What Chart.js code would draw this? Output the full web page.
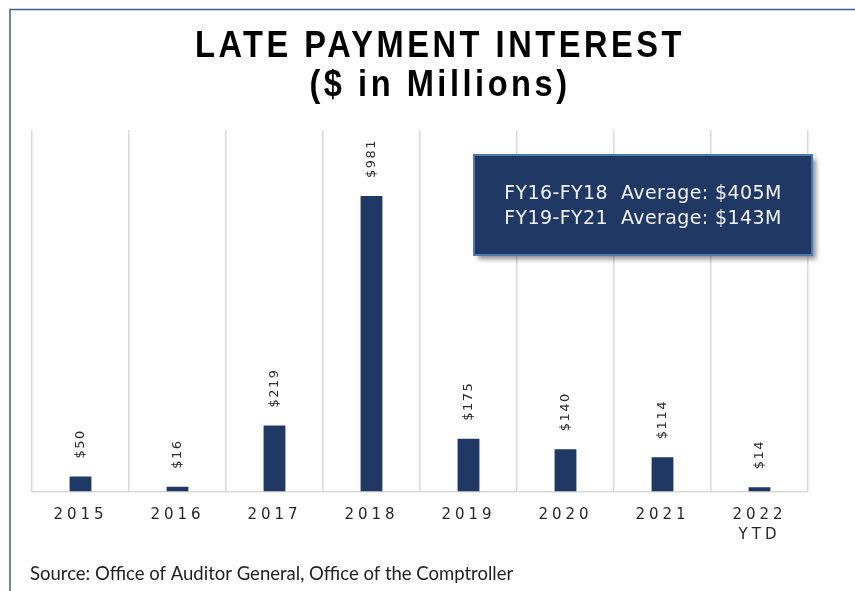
<!DOCTYPE html>
<html>
<head>
<meta charset="utf-8">
<script src="https://cdn.jsdelivr.net/npm/chart.js@4/dist/chart.umd.min.js"></script>
<style>
	body { margin: 0; background: #ffffff; }
	canvas { display: block; }
</style>
</head>
<body>
<canvas id="lateInterestChart" width="855" height="591"></canvas>
<script>

const years = ['2015', '2016', '2017', '2018', '2019', '2020', '2021', ['2022', 'YTD']];
const interest = [50, 16, 219, 981, 175, 140, 114, 14];
const titleLines = ['LATE PAYMENT INTEREST', '($ in Millions)'];
const averageLines = ['FY16-FY18  Average: $405M', 'FY19-FY21  Average: $143M'];
const sourceNote = 'Source: Office of Auditor General, Office of the Comptroller';

const navy = '#1f3864';

// frame, title, average box and source line
const decorations = {
	id: 'decorations',
	beforeDraw(chart) {
		let ctx = chart.ctx;
		ctx.save();
		ctx.fillStyle = '#ffffff';
		ctx.fillRect(0, 0, chart.width, chart.height);

		ctx.strokeStyle = '#3f5f8a';
		ctx.lineWidth = 1.5;
		ctx.beginPath();
		ctx.moveTo(10, chart.height);
		ctx.lineTo(10, 9.5);
		ctx.lineTo(chart.width, 9.5);
		ctx.stroke();

		// the title font is a condensed one, squeeze a normal bold sans
		ctx.fillStyle = '#000000';
		ctx.textAlign = 'center';
		ctx.textBaseline = 'middle';
		ctx.font = 'bold 37px "Liberation Sans"';
		ctx.letterSpacing = '4px';
		let squeeze = 490 / ctx.measureText(titleLines[0]).width;
		ctx.save();
		ctx.translate(440, 0);
		ctx.scale(squeeze, 1);
		ctx.fillText(titleLines[0], 0, 47);
		ctx.fillText(titleLines[1], 0, 86);
		ctx.restore();

		ctx.letterSpacing = '0px';
		ctx.textAlign = 'left';
		ctx.fillStyle = '#222222';
		ctx.font = '18.5px Lato';
		ctx.fillText(sourceNote, 30, 574);
		ctx.restore();

		// x tick labels are spaced out in the original
		ctx.letterSpacing = '4px';
	},
	afterDatasetsDraw(chart) {
		let ctx = chart.ctx;
		let meta = chart.getDatasetMeta(0);
		ctx.save();
		ctx.letterSpacing = '1.5px';
		ctx.fillStyle = '#2b2b2b';
		ctx.font = '13px "DejaVu Sans"';
		ctx.textAlign = 'left';
		ctx.textBaseline = 'middle';
		meta.data.forEach(function(bar, i) {
			ctx.save();
			ctx.translate(bar.x, bar.y - 18);
			ctx.rotate(-Math.PI / 2);
			ctx.fillText('$' + interest[i], 0, 0);
			ctx.restore();
		});
		ctx.restore();
	},
	afterDraw(chart) {
		let ctx = chart.ctx;
		ctx.save();
		ctx.letterSpacing = '0px';
		ctx.shadowColor = 'rgba(0, 0, 0, 0.45)';
		ctx.shadowBlur = 5;
		ctx.shadowOffsetX = 4;
		ctx.shadowOffsetY = 4;
		ctx.fillStyle = navy;
		ctx.fillRect(474, 155, 338, 100);
		ctx.shadowColor = 'transparent';
		ctx.strokeStyle = '#4e79ad';
		ctx.lineWidth = 2;
		ctx.strokeRect(474, 155, 338, 100);

		ctx.fillStyle = '#f2f2f2';
		ctx.font = '19px "DejaVu Sans"';
		ctx.letterSpacing = '0.4px';
		ctx.textAlign = 'center';
		ctx.textBaseline = 'middle';
		ctx.fillText(averageLines[0], 643, 194);
		ctx.fillText(averageLines[1], 643, 219);
		ctx.restore();
	}
};

function addLateInterestChart() {

	let ctx = document.getElementById('lateInterestChart').getContext('2d');
	let lateInterestChart = new Chart(ctx, {
		type: 'bar',
		data: {
			labels: years,
			datasets: [{
				data: interest,
				backgroundColor: navy,
				barPercentage: 0.9,
				categoryPercentage: 0.25,
			}],
		},
		options: {
			responsive: false,
			animation: false,
			layout: {
				padding: { top: 130, left: 32, right: 47, bottom: 33 },
			},
			plugins: {
				legend: { display: false },
				tooltip: { enabled: false },
			},
			scales: {
				x: {
					grid: {
						color: '#d9d9d9',
						lineWidth: 1.5,
						drawTicks: false,
						offset: true,
					},
					border: { color: '#d9d9d9', width: 1.5 },
					ticks: {
						color: '#262626',
						font: { family: 'DejaVu Sans', size: 15, lineHeight: 1.35 },
						padding: 13,
						maxRotation: 0,
						autoSkip: false,
					},
				},
				y: {
					display: false,
					min: 0,
					max: 1200,
				},
			},
		},
		plugins: [decorations],
	});

}

addLateInterestChart();

</script>
</body>
</html>
